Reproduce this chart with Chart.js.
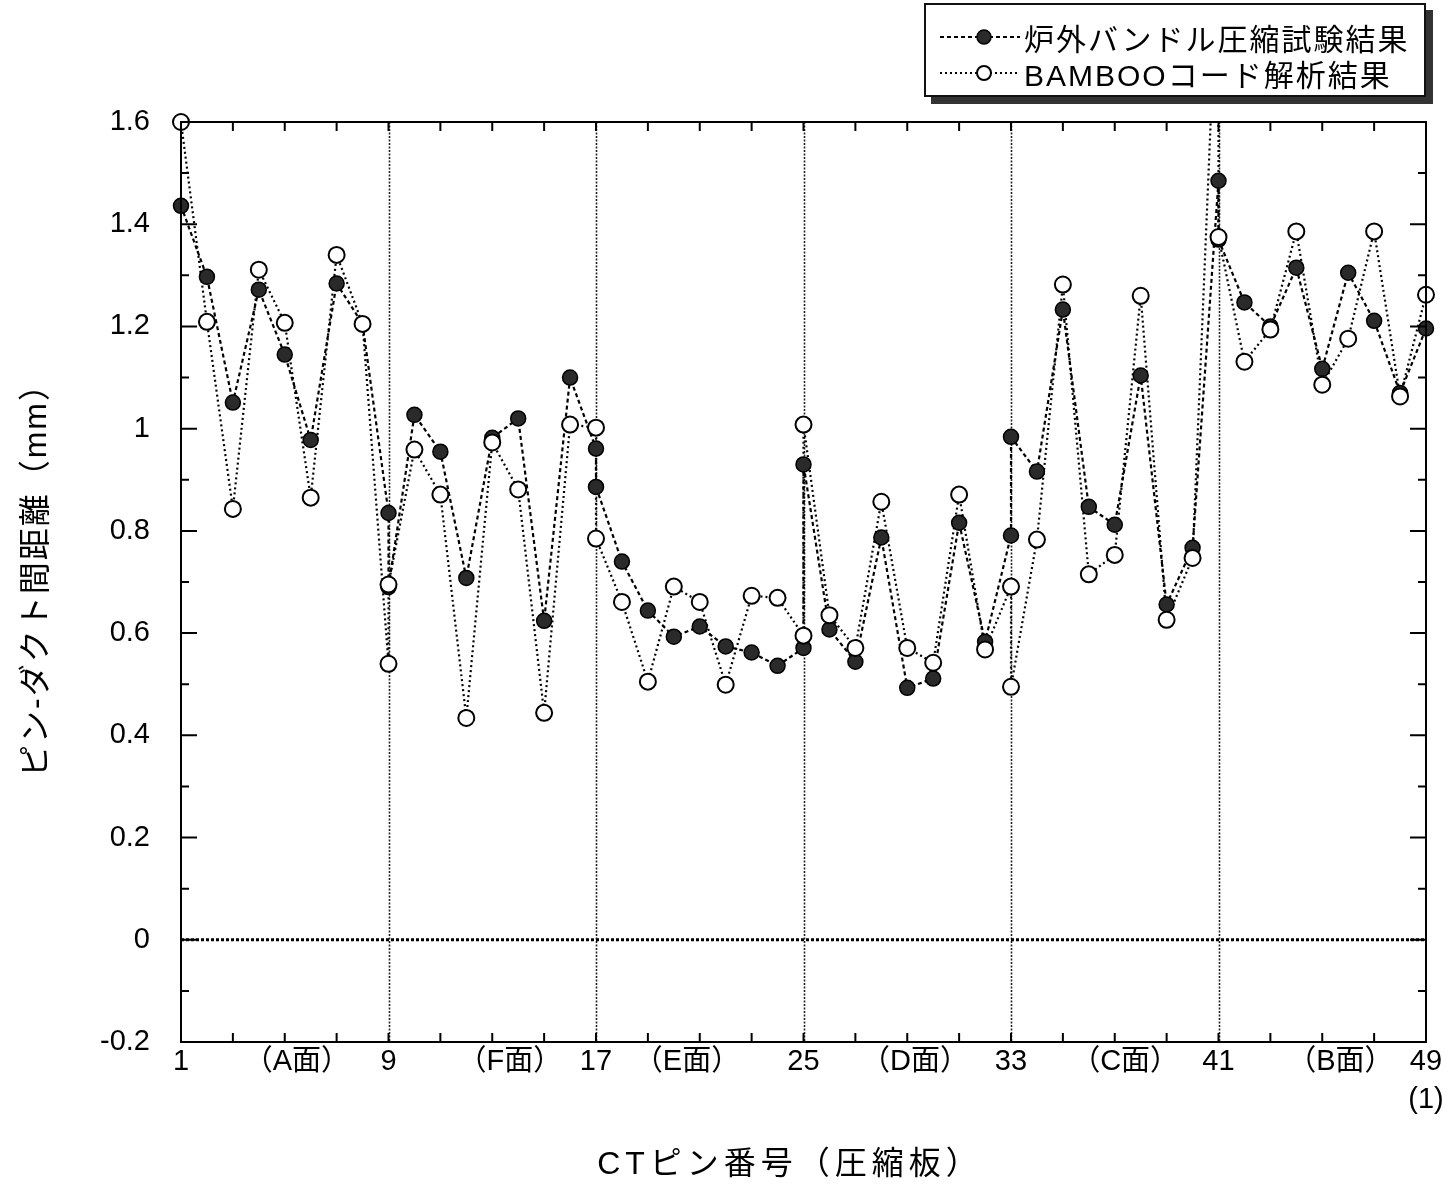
<!DOCTYPE html>
<html>
<head>
<meta charset="utf-8">
<script src="https://cdn.jsdelivr.net/npm/chart.js@4.4.1/dist/chart.umd.min.js"></script>
<style>
  body { margin: 0; background: #fff; }
  #wrap { position: relative; width: 1456px; height: 1189px; overflow: hidden; }
  #chart { position: absolute; left: 0; top: 0; }
  .legend {
    position: absolute; left: 924px; top: 3px; width: 498px; height: 90px;
    border: 2px solid #111; box-shadow: 7px 7px 0 #333; background: #fff;
    font-family: 'Liberation Sans', 'Noto Sans CJK JP', sans-serif; font-size: 30px; color: #000;
  }
  .legend .row { position: absolute; left: 14px; height: 36px; display: flex; align-items: center; }
  .legend .row span { margin-left: 4px; letter-spacing: 2px; white-space: nowrap; }
  .xtitle, .ytitle {
    position: absolute; white-space: nowrap; color: #000;
    font-family: 'Liberation Sans', 'Noto Sans CJK JP', sans-serif; font-size: 32px;
    transform: translate(-50%, -50%);
  }
  .xtitle { left: 790px; top: 1160px; letter-spacing: 5px; }
  .ytitle { left: 32px; top: 572px; letter-spacing: 2px; transform: translate(-50%, -50%) rotate(-90deg); }
</style>
</head>
<body>
<div id="wrap">
  <canvas id="chart" width="1456" height="1189"></canvas>
  <div class="legend">
    <div class="row" style="top:14px">
      <svg width="80" height="20"><line x1="0" y1="10" x2="80" y2="10" stroke="#000" stroke-width="2" stroke-dasharray="4 3"/><circle cx="44" cy="10" r="7" fill="#2a2a2a" stroke="#000" stroke-width="1.5"/></svg>
      <span>炉外バンドル圧縮試験結果</span>
    </div>
    <div class="row" style="top:50px">
      <svg width="80" height="20"><line x1="0" y1="10" x2="80" y2="10" stroke="#000" stroke-width="2" stroke-dasharray="2 3"/><circle cx="44" cy="10" r="7" fill="#fff" stroke="#000" stroke-width="2"/></svg>
      <span>BAMBOOコード解析結果</span>
    </div>
  </div>
  <div class="xtitle">CTピン番号（圧縮板）</div>
  <div class="ytitle">ピン-ダクト間距離（mm）</div>
</div>
<script>
// pin numbers, face by face (A, F, E, D, C, B); corner pins appear in two faces
const pins = [
  1, 2, 3, 4, 5, 6, 7, 8, 9,
  9, 10, 11, 12, 13, 14, 15, 16, 17,
  17, 18, 19, 20, 21, 22, 23, 24, 25,
  25, 26, 27, 28, 29, 30, 31, 32, 33,
  33, 34, 35, 36, 37, 38, 39, 40, 41,
  41, 42, 43, 44, 45, 46, 47, 48, 49
];

// 炉外バンドル圧縮試験結果
const testValues = [
  1.436, 1.297, 1.051, 1.272, 1.145, 0.978, 1.284, 1.205, 0.835,
  0.690, 1.027, 0.955, 0.708, 0.982, 1.020, 0.624, 1.100, 0.961,
  0.886, 0.740, 0.644, 0.593, 0.613, 0.574, 0.562, 0.536, 0.571,
  0.930, 0.607, 0.544, 0.787, 0.493, 0.511, 0.816, 0.583, 0.791,
  0.984, 0.916, 1.233, 0.847, 0.812, 1.104, 0.656, 0.767, 1.485,
  1.370, 1.247, 1.200, 1.315, 1.117, 1.305, 1.211, 1.070, 1.196
];

// BAMBOOコード解析結果
const bambooValues = [
  1.600, 1.209, 0.843, 1.311, 1.207, 0.865, 1.340, 1.205, 0.540,
  0.695, 0.959, 0.871, 0.434, 0.973, 0.881, 0.444, 1.008, 1.002,
  0.785, 0.661, 0.505, 0.691, 0.661, 0.499, 0.673, 0.669, 0.595,
  1.008, 0.635, 0.571, 0.857, 0.571, 0.542, 0.871, 0.568, 0.691,
  0.495, 0.783, 1.282, 0.715, 0.753, 1.260, 0.626, 0.747, 1.970,
  1.375, 1.131, 1.194, 1.386, 1.086, 1.176, 1.386, 1.063, 1.262
];

const yTickValues = [-0.2, 0, 0.2, 0.4, 0.6, 0.8, 1, 1.2, 1.4, 1.6];
const xLabelPins = [1, 5.47, 9, 13.68, 17, 20.51, 25, 29.3, 33, 37.4, 41, 45.7, 49];
const xLabelTexts = ['1', '（A面）', '9', '（F面）', '17', '（E面）', '25', '（D面）', '33', '（C面）', '41', '（B面）', ['49', '(1)']];
const faceBorderPins = [9, 17, 25, 33, 41];

const toPoints = (vals) => vals.map((v, i) => ({ x: pins[i], y: v }));
const tickFont = { family: "'Liberation Sans', 'Noto Sans CJK JP', sans-serif", size: 29, lineHeight: 1.3 };

// grid separators, zero line, frame and inward tick marks
const framePlugin = {
  id: 'frame',
  beforeDatasetsDraw(chart) {
    const { ctx, chartArea: a, scales: { x, y } } = chart;
    ctx.save();
    ctx.strokeStyle = '#222';
    ctx.lineWidth = 1.6;
    ctx.setLineDash([2, 1.5]);
    faceBorderPins.forEach(p => {
      const px = Math.round(x.getPixelForValue(p)) + 0.5;
      ctx.beginPath();
      ctx.moveTo(px, a.top);
      ctx.lineTo(px, a.bottom);
      ctx.stroke();
    });
    ctx.strokeStyle = '#000';
    ctx.lineWidth = 3;
    ctx.setLineDash([3, 2]);
    const py0 = y.getPixelForValue(0);
    ctx.beginPath();
    ctx.moveTo(a.left, py0);
    ctx.lineTo(a.right, py0);
    ctx.stroke();
    ctx.restore();
  },
  afterDatasetsDraw(chart) {
    const { ctx, chartArea: a, scales: { x, y } } = chart;
    ctx.save();
    ctx.strokeStyle = '#000';
    ctx.lineWidth = 2;
    ctx.setLineDash([]);
    ctx.strokeRect(a.left, a.top, a.right - a.left, a.bottom - a.top);
    ctx.beginPath();
    for (let k = -2; k <= 16; k++) {
      const py = y.getPixelForValue(k / 10);
      const len = k % 2 === 0 ? 16 : 8;
      ctx.moveTo(a.left, py); ctx.lineTo(a.left + len, py);
      ctx.moveTo(a.right, py); ctx.lineTo(a.right - len, py);
    }
    for (let p = 3; p <= 47; p += 2) {
      const px = x.getPixelForValue(p);
      ctx.moveTo(px, a.bottom); ctx.lineTo(px, a.bottom - 9);
      ctx.moveTo(px, a.top); ctx.lineTo(px, a.top + 9);
    }
    ctx.stroke();
    ctx.restore();
  }
};

new Chart(document.getElementById('chart'), {
  type: 'line',
  data: {
    datasets: [
      { data: toPoints(bambooValues), showLine: false, pointRadius: 8, pointBackgroundColor: '#fff',
        pointBorderColor: '#000', pointBorderWidth: 2, clip: false },
      { data: toPoints(testValues), showLine: false, pointRadius: 7.5, pointBackgroundColor: '#2a2a2a',
        pointBorderColor: '#000', pointBorderWidth: 1.5, clip: false },
      { data: toPoints(bambooValues), borderColor: '#000', borderWidth: 2.2, borderDash: [2, 3],
        pointRadius: 0, tension: 0, fill: false },
      { data: toPoints(testValues), borderColor: '#000', borderWidth: 2.2, borderDash: [4, 3],
        pointRadius: 0, tension: 0, fill: false }
    ]
  },
  options: {
    responsive: false,
    animation: false,
    events: [],
    layout: { padding: { top: 122, right: 30, bottom: 0, left: 0 } },
    plugins: { legend: { display: false }, tooltip: { enabled: false } },
    scales: {
      x: {
        type: 'linear', min: 1, max: 49,
        grid: { display: false, drawTicks: false },
        border: { display: false },
        afterBuildTicks: s => { s.ticks = xLabelPins.map(v => ({ value: v })); },
        afterFit: s => { s.height = 147; },
        ticks: {
          autoSkip: false, maxRotation: 0, minRotation: 0, padding: 1, color: '#000', font: tickFont,
          callback: (v, i) => xLabelTexts[i]
        }
      },
      y: {
        type: 'linear', min: -0.2, max: 1.6,
        grid: { display: false, drawTicks: false },
        border: { display: false },
        afterBuildTicks: s => { s.ticks = yTickValues.map(v => ({ value: v })); },
        afterFit: s => { s.width = 181; },
        ticks: {
          padding: 31, color: '#000', font: tickFont,
          callback: v => String(Number(v.toFixed(1)))
        }
      }
    }
  },
  plugins: [framePlugin]
});
</script>
</body>
</html>
